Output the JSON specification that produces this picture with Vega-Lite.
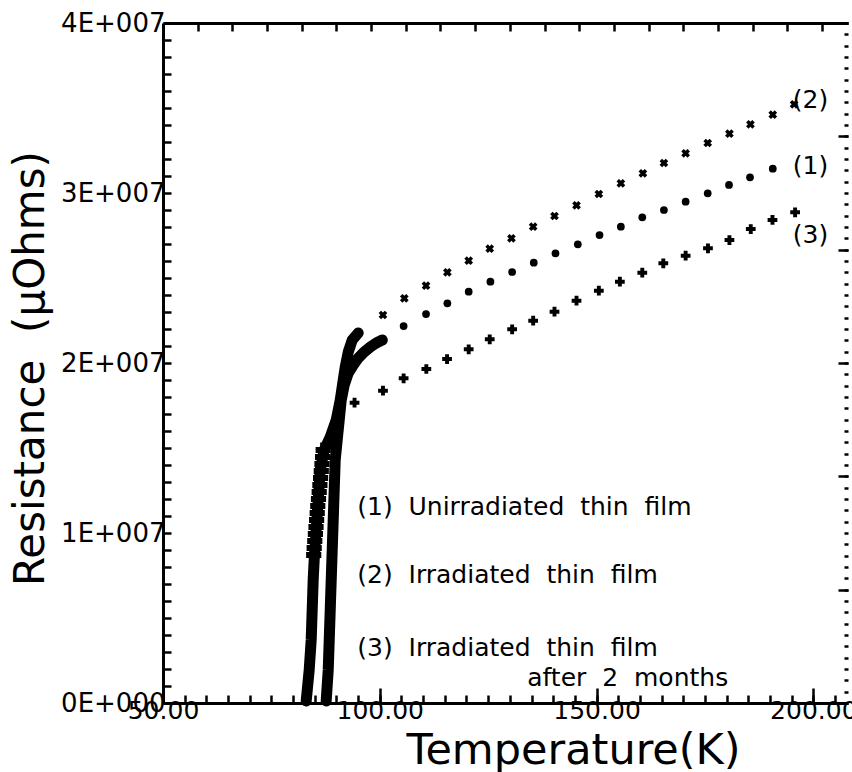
{
  "$schema": "https://vega.github.io/schema/vega-lite/v6.json",
  "width": 685,
  "height": 680,
  "autosize": "none",
  "padding": {"left": 163, "top": 23, "right": 4, "bottom": 69},
  "background": "white",
  "config": {
    "view": {"stroke": null},
    "font": "DejaVu Sans",
    "axis": {"domainColor": "black", "tickColor": "black", "labelColor": "black", "titleColor": "black", "labelFont": "DejaVu Sans", "titleFont": "DejaVu Sans", "titleFontWeight": "normal", "grid": false}
  },
  "datasets": {
    "trans": [
      {"series": "1", "T": 87.64, "R": 118000}, {"series": "1", "T": 88.11, "R": 1941000}, {"series": "1", "T": 88.34, "R": 3706000},
      {"series": "1", "T": 88.57, "R": 5471000}, {"series": "1", "T": 88.80, "R": 7235000}, {"series": "1", "T": 89.03, "R": 9000000},
      {"series": "1", "T": 89.26, "R": 10765000}, {"series": "1", "T": 89.49, "R": 12530000}, {"series": "1", "T": 89.72, "R": 14290000},
      {"series": "1", "T": 90.18, "R": 15470000}, {"series": "1", "T": 90.65, "R": 16650000}, {"series": "1", "T": 91.11, "R": 17820000},
      {"series": "1", "T": 91.80, "R": 18710000}, {"series": "1", "T": 92.73, "R": 19410000}, {"series": "1", "T": 93.88, "R": 19880000},
      {"series": "1", "T": 95.03, "R": 20290000}, {"series": "1", "T": 96.42, "R": 20650000}, {"series": "1", "T": 97.81, "R": 20940000},
      {"series": "1", "T": 99.19, "R": 21180000}, {"series": "1", "T": 100.58, "R": 21350000},
      {"series": "2", "T": 83.03, "R": 118000}, {"series": "2", "T": 83.72, "R": 1941000}, {"series": "2", "T": 84.18, "R": 3706000},
      {"series": "2", "T": 84.41, "R": 5471000}, {"series": "2", "T": 84.64, "R": 7235000}, {"series": "2", "T": 84.87, "R": 8412000},
      {"series": "2", "T": 85.33, "R": 10177000}, {"series": "2", "T": 85.80, "R": 11941000}, {"series": "2", "T": 86.26, "R": 13706000},
      {"series": "2", "T": 87.18, "R": 14882000}, {"series": "2", "T": 88.57, "R": 15647000}, {"series": "2", "T": 89.95, "R": 16647000},
      {"series": "2", "T": 90.88, "R": 17824000}, {"series": "2", "T": 91.57, "R": 19000000}, {"series": "2", "T": 92.03, "R": 19765000},
      {"series": "2", "T": 92.73, "R": 20647000}, {"series": "2", "T": 93.65, "R": 21353000}, {"series": "2", "T": 95.03, "R": 21765000}
    ],
    "tplus": [
      {"T": 86.95, "R": 14882000}, {"T": 86.81, "R": 14471000}, {"T": 86.67, "R": 14059000}, {"T": 86.51, "R": 13647000},
      {"T": 86.35, "R": 13235000}, {"T": 86.19, "R": 12824000}, {"T": 86.03, "R": 12412000}, {"T": 85.87, "R": 12000000},
      {"T": 85.70, "R": 11588000}, {"T": 85.57, "R": 11176000}, {"T": 85.43, "R": 10765000}, {"T": 85.29, "R": 10353000},
      {"T": 85.15, "R": 9941000}, {"T": 85.01, "R": 9529000}, {"T": 84.87, "R": 9118000}, {"T": 84.76, "R": 8706000}
    ],
    "pts": [
      {"series": "2", "T": 100.74, "R": 22824000}, {"series": "2", "T": 105.66, "R": 23806000}, {"series": "2", "T": 110.67, "R": 24547000},
      {"series": "2", "T": 115.59, "R": 25335000}, {"series": "2", "T": 120.51, "R": 26018000}, {"series": "2", "T": 125.36, "R": 26724000},
      {"series": "2", "T": 130.37, "R": 27335000}, {"series": "2", "T": 135.38, "R": 28018000}, {"series": "2", "T": 140.30, "R": 28647000},
      {"series": "2", "T": 145.38, "R": 29276000}, {"series": "2", "T": 150.53, "R": 29941000}, {"series": "2", "T": 155.61, "R": 30571000},
      {"series": "2", "T": 160.69, "R": 31159000}, {"series": "2", "T": 165.54, "R": 31765000}, {"series": "2", "T": 170.55, "R": 32335000},
      {"series": "2", "T": 175.64, "R": 32941000}, {"series": "2", "T": 180.65, "R": 33488000}, {"series": "2", "T": 185.50, "R": 34041000},
      {"series": "2", "T": 190.65, "R": 34606000}, {"series": "2", "T": 195.57, "R": 35218000},
      {"series": "1", "T": 100.74, "R": 21300000}, {"series": "1", "T": 105.50, "R": 22176000}, {"series": "1", "T": 110.67, "R": 22882000},
      {"series": "1", "T": 115.59, "R": 23512000}, {"series": "1", "T": 120.51, "R": 24194000}, {"series": "1", "T": 125.52, "R": 24782000},
      {"series": "1", "T": 130.53, "R": 25353000}, {"series": "1", "T": 135.52, "R": 25900000}, {"series": "1", "T": 140.53, "R": 26453000},
      {"series": "1", "T": 145.68, "R": 26982000}, {"series": "1", "T": 150.69, "R": 27529000}, {"series": "1", "T": 155.61, "R": 28018000},
      {"series": "1", "T": 160.55, "R": 28571000}, {"series": "1", "T": 165.54, "R": 29000000}, {"series": "1", "T": 170.55, "R": 29488000},
      {"series": "1", "T": 175.64, "R": 29982000}, {"series": "1", "T": 180.55, "R": 30471000}, {"series": "1", "T": 185.40, "R": 30924000},
      {"series": "1", "T": 190.65, "R": 31429000},
      {"series": "3", "T": 94.18, "R": 17665000}, {"series": "3", "T": 100.74, "R": 18371000}, {"series": "3", "T": 105.50, "R": 19100000},
      {"series": "3", "T": 110.74, "R": 19647000}, {"series": "3", "T": 115.52, "R": 20235000}, {"series": "3", "T": 120.51, "R": 20806000},
      {"series": "3", "T": 125.36, "R": 21394000}, {"series": "3", "T": 130.53, "R": 21982000}, {"series": "3", "T": 135.38, "R": 22488000},
      {"series": "3", "T": 140.30, "R": 23018000}, {"series": "3", "T": 145.38, "R": 23665000}, {"series": "3", "T": 150.53, "R": 24253000},
      {"series": "3", "T": 155.38, "R": 24782000}, {"series": "3", "T": 160.55, "R": 25312000}, {"series": "3", "T": 165.40, "R": 25865000},
      {"series": "3", "T": 170.55, "R": 26312000}, {"series": "3", "T": 175.70, "R": 26747000}, {"series": "3", "T": 180.65, "R": 27235000},
      {"series": "3", "T": 185.57, "R": 27882000}, {"series": "3", "T": 190.58, "R": 28412000}, {"series": "3", "T": 195.80, "R": 28865000}
    ],
    "notes": [
      {"T": 94.8, "R": 11529000, "label": "(1)\u00a0 Unirradiated\u00a0 thin\u00a0 film"},
      {"T": 94.8, "R": 7530000, "label": "(2)\u00a0 Irradiated\u00a0 thin\u00a0 film"},
      {"T": 94.8, "R": 3240000, "label": "(3)\u00a0 Irradiated\u00a0 thin\u00a0 film"},
      {"T": 134.0, "R": 1470000, "label": "after\u00a0 2\u00a0 months"}
    ],
    "tags": [
      {"T": 195.27, "R": 35470000, "label": "(2)"},
      {"T": 195.27, "R": 31590000, "label": "(1)"},
      {"T": 195.27, "R": 27530000, "label": "(3)"}
    ]
  },
  "resolve": {"axis": {"x": "independent", "y": "independent"}},
  "layer": [
    {
      "data": {"name": "trans"},
      "mark": {"type": "line", "color": "black", "strokeWidth": 11, "strokeCap": "round", "strokeJoin": "round"},
      "encoding": {
        "x": {"field": "T", "type": "quantitative", "scale": {"domain": [50, 208], "nice": false, "zero": false},
          "axis": {"orient": "bottom", "values": [50,55,60,65,70,75,80,85,90,95,100,105,110,115,120,125,130,135,140,145,150,155,160,165,170,175,180,185,190,195,200,205],
            "tickSize": -8, "tickWidth": 2.5, "domainWidth": 3,
            "labelExpr": "datum.value % 50 === 0 ? format(datum.value, '.2f') : ''",
            "labelFontSize": 25, "labelPadding": 3, "labelOverlap": false, "labelFlush": false, "labelBound": false,
            "title": "Temperature(K)", "titleFontSize": 43, "titleX": 410, "titleY": 60, "titleAlign": "center", "titleBaseline": "alphabetic"}},
        "y": {"field": "R", "type": "quantitative", "scale": {"domain": [0, 40000000], "nice": false, "zero": false},
          "axis": {"orient": "left", "values": [0,1000000,2000000,3000000,4000000,5000000,6000000,7000000,8000000,9000000,10000000,11000000,12000000,13000000,14000000,15000000,16000000,17000000,18000000,19000000,20000000,21000000,22000000,23000000,24000000,25000000,26000000,27000000,28000000,29000000,30000000,31000000,32000000,33000000,34000000,35000000,36000000,37000000,38000000,39000000,40000000],
            "tickSize": -8, "tickWidth": 2.5, "domainWidth": 3,
            "labelExpr": "datum.value % 10000000 === 0 ? (datum.value === 0 ? '0E+000' : (datum.value / 10000000) + 'E+007') : ''",
            "labelFontSize": 26, "labelPadding": 6, "labelOverlap": false, "labelFlush": false, "labelBound": false, "labelBaseline": "middle",
            "title": "Resistance\u00a0 (μOhms)", "titleFontSize": 42, "titleAngle": -90, "titleX": -120, "titleY": 345, "titleAlign": "center", "titleBaseline": "alphabetic"}},
        "detail": {"field": "series"},
        "order": {"field": "R", "type": "quantitative"}
      }
    },
    {
      "data": {"name": "tplus"},
      "mark": {"type": "point", "shape": "cross", "filled": true, "color": "black", "size": 230, "opacity": 1},
      "encoding": {
        "x": {"field": "T", "type": "quantitative", "scale": {"domain": [50, 208], "nice": false, "zero": false},
          "axis": {"orient": "top", "values": [58,66,74,82,90,98,106,114,122,130,138,146,154,162,170,178,186,194,202],
            "tickSize": -8, "tickWidth": 2.5, "domainWidth": 3, "labels": false, "title": null}},
        "y": {"field": "R", "type": "quantitative", "scale": {"domain": [0, 40000000], "nice": false, "zero": false},
          "axis": {"orient": "right", "values": [0,666667,1333333,2000000,2666667,3333333,4000000,4666667,5333333,6000000,6666667,7333333,8000000,8666667,9333333,10000000,10666667,11333333,12000000,12666667,13333333,14000000,14666667,15333333,16000000,16666667,17333333,18000000,18666667,19333333,20000000,20666667,21333333,22000000,22666667,23333333,24000000,24666667,25333333,26000000,26666667,27333333,28000000,28666667,29333333,30000000,30666667,31333333,32000000,32666667,33333333,34000000,34666667,35333333,36000000,36666667,37333333,38000000,38666667,39333333,40000000],
            "tickSize": -4, "tickWidth": 2.5, "domain": false, "labels": false, "title": null}}
      }
    },
    {
      "data": {"name": "pts"},
      "mark": {"type": "point", "filled": true, "color": "black", "opacity": 1},
      "encoding": {
        "x": {"field": "T", "type": "quantitative", "scale": {"domain": [50, 208], "nice": false, "zero": false},
          "axis": {"orient": "bottom", "values": [50, 100, 150, 200], "tickSize": -15, "tickWidth": 2.5, "domain": false, "labels": false, "title": null}},
        "y": {"field": "R", "type": "quantitative", "scale": {"domain": [0, 40000000], "nice": false, "zero": false},
          "axis": {"orient": "right", "values": [0, 6666667, 13333333, 20000000, 26666667, 33333333, 40000000], "tickSize": -10, "tickWidth": 2.5, "domain": false, "labels": false, "title": null}},
        "shape": {"field": "series", "type": "nominal", "scale": {"domain": ["1", "2", "3"], "range": ["circle", "cross", "cross"]}, "legend": null},
        "size": {"field": "series", "type": "nominal", "scale": {"domain": ["1", "2", "3"], "range": [60, 95, 100]}, "legend": null},
        "angle": {"condition": {"test": "datum.series === '2'", "value": 45}, "value": 0}
      }
    },
    {
      "data": {"name": "notes"},
      "mark": {"type": "text", "align": "left", "baseline": "middle", "fontSize": 25, "font": "DejaVu Sans", "color": "black"},
      "encoding": {
        "x": {"field": "T", "type": "quantitative", "scale": {"domain": [50, 208], "nice": false, "zero": false}, "axis": null},
        "y": {"field": "R", "type": "quantitative", "scale": {"domain": [0, 40000000], "nice": false, "zero": false}, "axis": null},
        "text": {"field": "label"}
      }
    },
    {
      "data": {"name": "tags"},
      "mark": {"type": "text", "align": "left", "baseline": "middle", "fontSize": 25, "font": "DejaVu Sans", "color": "black"},
      "encoding": {
        "x": {"field": "T", "type": "quantitative", "scale": {"domain": [50, 208], "nice": false, "zero": false}, "axis": null},
        "y": {"field": "R", "type": "quantitative", "scale": {"domain": [0, 40000000], "nice": false, "zero": false}, "axis": null},
        "text": {"field": "label"}
      }
    }
  ]
}
